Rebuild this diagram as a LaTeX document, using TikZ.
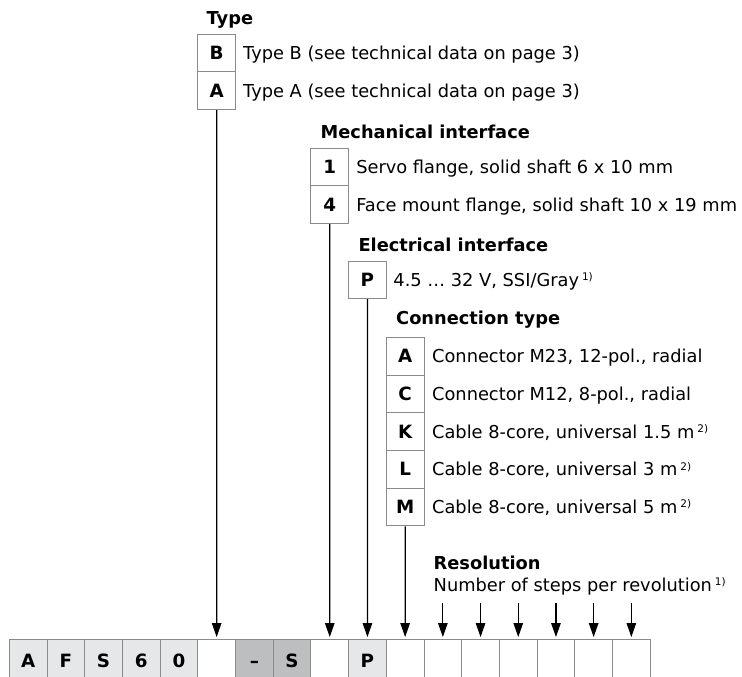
\documentclass[tikz,border=0pt]{standalone}
\usepackage{fontspec}
\setmainfont{DejaVu Sans}
\usetikzlibrary{arrows.meta}
\definecolor{lg}{HTML}{E6E7E8}
\definecolor{dg}{HTML}{BCBEC0}
\definecolor{bd}{HTML}{8A8A8A}
\newcommand\supnote[1]{\,{\fontsize{10.5}{10.5}\selectfont\raisebox{5.8pt}{#1}}}
\begin{document}
\begin{tikzpicture}[x=1pt,y=-1pt,
  font=\fontsize{17.8}{20}\selectfont,
  keybox/.style={draw=bd, line width=0.9pt, minimum width=37.7pt, minimum height=37.7pt, inner sep=0pt, text height=13.3pt, text depth=0pt, font=\fontsize{18.3}{20}\selectfont\bfseries},
  cell/.style={draw=bd, line width=0.9pt, minimum width=37.7pt, minimum height=44pt, inner sep=0pt, text height=13.3pt, text depth=0pt, font=\fontsize{18.3}{20}\selectfont\bfseries},
  head/.style={anchor=base west, inner sep=0pt, font=\fontsize{17.8}{20}\selectfont\bfseries},
  desc/.style={anchor=base west, inner sep=0pt},
  arr/.style={line width=1.2pt, -{Triangle[length=14pt,width=9.5pt]}, shorten >=1.5pt}]
\useasboundingbox (0,0) rectangle (742,677);
\clip (0,0) rectangle (742,677);

% bottom row of cells
\foreach \i/\t/\f in {0/A/lg,1/F/lg,2/S/lg,3/6/lg,4/0/lg,5//white,6/–/dg,7/S/dg,8//white,9/P/lg,10//white,11//white,12//white,13//white,14//white,15//white,16//white}
  \node[cell, fill=\f] (c\i) at ({9.3+37.7*(\i+0.5)}, 661) {\t};

% Type
\node[head] (hType) at (206.5, 24.5) {Type};
\node[keybox] (kB) at (216.65, 53) {B};
\node[keybox] (kA) at (216.65, 90.7) {A};
\node[desc] (dB) at ([xshift=7pt,yshift=-6.5pt]kB.east) {Type B (see technical data on page 3)};
\node[desc] (dA) at ([xshift=7pt,yshift=-6.5pt]kA.east) {Type A (see technical data on page 3)};

% Mechanical interface
\node[head] (hMech) at (320.5, 138.2) {Mechanical interface};
\node[keybox] (k1) at (329.75, 167) {1};
\node[keybox] (k4) at (329.75, 204.7) {4};
\node[desc] (d1) at ([xshift=7pt,yshift=-6.5pt]k1.east) {Servo flange, solid shaft 6 x 10 mm};
\node[desc] (d4) at ([xshift=7pt,yshift=-6.5pt]k4.east) {Face mount flange, solid shaft 10 x 19 mm};

% Electrical interface
\node[head] (hElec) at (358.3, 251.4) {Electrical interface};
\node[keybox] (kP) at (367.45, 279.8) {P};
\node[desc] (dP) at ([xshift=6.5pt,yshift=-6.5pt]kP.east) {4.5 … 32 V, SSI/Gray\supnote{1)}};

% Connection type
\node[head] (hConn) at (396, 324.4) {Connection type};
\node[keybox] (kCA) at (405.15, 356.2) {A};
\node[keybox] (kCC) at (405.15, 393.9) {C};
\node[keybox] (kCK) at (405.15, 431.6) {K};
\node[keybox] (kCL) at (405.15, 469.3) {L};
\node[keybox] (kCM) at (405.15, 507) {M};
\node[desc] (dCA) at ([xshift=7.5pt,yshift=-6.5pt]kCA.east) {Connector M23, 12-pol., radial};
\node[desc] (dCC) at ([xshift=7.5pt,yshift=-6.5pt]kCC.east) {Connector M12, 8-pol., radial};
\node[desc] (dCK) at ([xshift=7.5pt,yshift=-6.5pt]kCK.east) {Cable 8-core, universal 1.5 m\supnote{2)}};
\node[desc] (dCL) at ([xshift=7.5pt,yshift=-6.5pt]kCL.east) {Cable 8-core, universal 3 m\supnote{2)}};
\node[desc] (dCM) at ([xshift=7.5pt,yshift=-6.5pt]kCM.east) {Cable 8-core, universal 5 m\supnote{2)}};

% Resolution
\node[head] (hRes) at (433.5, 569.4) {Resolution};
\node[desc] (dRes) at (433.5, 591.4) {Number of steps per revolution\supnote{1)}};

% connectors
\draw[arr] (kA.south) -- (c5.north);
\draw[arr] (k4.south) -- (c8.north);
\draw[arr] (kP.south) -- (c9.north);
\draw[arr] (kCM.south) -- (c10.north);
\foreach \i in {11,...,16}{
  \coordinate (r\i) at ([yshift=36pt]c\i.north);
  \draw[arr] (r\i) -- (c\i.north);
}
\end{tikzpicture}
\end{document}
